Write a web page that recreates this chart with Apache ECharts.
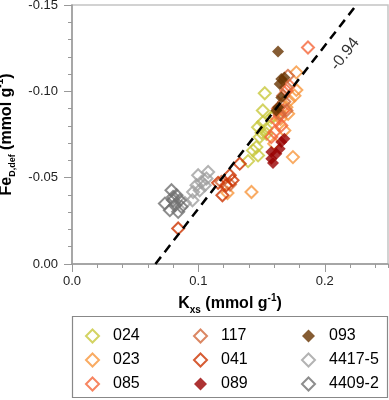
<!DOCTYPE html>
<html><head><meta charset="utf-8">
<script src="https://cdn.jsdelivr.net/npm/echarts@6/dist/echarts.min.js"></script>
<style>html,body{margin:0;padding:0;background:#fff}#c{width:389px;height:400px}</style>
</head><body><div id="c"></div>
<script>
const names = ['024','023','085','117','041','089','093','4417-5','4409-2'];
const colors = ['#c8c83c','#f7963c','#f5663a','#d2693c','#cc3300','#990000','#663300','#a0a0a0','#707070'];
const filled = [false,false,false,false,false,true,true,false,false];

const s024 = [[0.1525,-0.0989],[0.151,-0.0889],[0.151,-0.0821],[0.1472,-0.0792],[0.1538,-0.0783],[0.1485,-0.0735],[0.1538,-0.0754],[0.1459,-0.0677],[0.1432,-0.0658],[0.1472,-0.0629],[0.1393,-0.0596],[0.1577,-0.085],[0.160,-0.086],[0.1500,-0.0760]];
const s023 = [[0.123,-0.0411],[0.142,-0.0417],[0.1748,-0.0619],[0.1775,-0.111],[0.1775,-0.1008],[0.176,-0.0975],[0.168,-0.0773],[0.160,-0.0696],[0.1696,-0.0908],[0.172,-0.0946],[0.1710,-0.0870],[0.1650,-0.0840]];
const s085 = [[0.1867,-0.1254],[0.1643,-0.086],[0.167,-0.0889],[0.1617,-0.0831],[0.1656,-0.0802],[0.1696,-0.1004],[0.172,-0.1033],[0.160,-0.0763],[0.1577,-0.0735],[0.1630,-0.0900]];
const s117 = [[0.1708,-0.109],[0.1696,-0.1023],[0.167,-0.0975],[0.1696,-0.0889],[0.1643,-0.087],[0.1182,-0.0475],[0.1250,-0.0460],[0.1680,-0.0940]];
const s041 = [[0.084,-0.0206],[0.1156,-0.047],[0.119,-0.0398],[0.1248,-0.0514],[0.1327,-0.0581],[0.127,-0.0485],[0.122,-0.0456]];
const s089 = [[0.159,-0.0585],[0.1577,-0.061],[0.1577,-0.0648],[0.1643,-0.0667],[0.168,-0.0725],[0.1617,-0.0639],[0.1656,-0.0706]];
const s093 = [[0.163,-0.1231],[0.1656,-0.1071],[0.168,-0.108],[0.1643,-0.1042],[0.163,-0.0908],[0.1656,-0.0965],[0.1617,-0.0889]];
const s4417 = [[0.1077,-0.0533],[0.0998,-0.0514],[0.1024,-0.0475],[0.0985,-0.0456],[0.105,-0.0456],[0.0958,-0.0417],[0.101,-0.0427],[0.0953,-0.0369],[0.0893,-0.0354],[0.1064,-0.0495]];
const s4409 = [[0.0787,-0.0427],[0.0827,-0.0398],[0.080,-0.0369],[0.0735,-0.035],[0.0853,-0.0369],[0.0814,-0.034],[0.084,-0.0302],[0.0774,-0.0312],[0.0866,-0.0331],[0.080,-0.0388]];
const seriesData = [s024,s023,s085,s117,s041,s089,s093,s4417,s4409];

const fitX = [0.066, 0.225];
const fitY = [0.0, -0.15];
const fitLabel = '-0.94';
const fitLabelPos = [0.2160, -0.1215];

const xTicks = ['0.0','0.1','0.2'];

const chart = echarts.init(document.getElementById('c'));
const series = names.map((n,i)=>({
  name: n, type: 'scatter', symbol: 'diamond', symbolSize: 12,
  data: seriesData[i],
  itemStyle: filled[i] ? {color: colors[i]} : {color: 'rgba(255,255,255,0)', borderColor: colors[i], borderWidth: 2},
  z: 3
}));
series.push({
  type: 'line', data: fitX.map((x,i)=>[x,fitY[i]]), symbol: 'none', silent: true,
  lineStyle: {color: '#000', width: 2.5, type: [9,6]}, z: 5
});
series.push({
  type: 'scatter', data: [fitLabelPos], symbolSize: 0, silent: true,
  label: {show: true, position: 'inside', formatter: fitLabel, rotate: 52, fontSize: 16, color: '#000', fontFamily: 'Liberation Sans'}
});

const legendBase = {orient: 'vertical', top: 323, itemWidth: 13, itemHeight: 13, itemGap: 8,
  textStyle: {fontSize: 16, color: '#000', fontFamily: 'Liberation Sans', padding:[0,0,0,9]}, icon: 'diamond', selectedMode: false,
  itemStyle: {borderWidth: 2}};

const mkRich = (sub) => ({
  b: {fontSize: 16, fontWeight: 'bold', color: '#000', fontFamily: 'Liberation Sans', lineHeight: 19, verticalAlign: 'bottom'},
  sub: {fontSize: sub, fontWeight: 'bold', color: '#000', fontFamily: 'Liberation Sans', lineHeight: 19, verticalAlign: 'bottom', padding: [0,0,-3,0]},
  sup: {fontSize: 10, fontWeight: 'bold', color: '#000', fontFamily: 'Liberation Sans', lineHeight: 19, verticalAlign: 'top'}
});

chart.setOption({
  animation: false,
  grid: {left: 72, right: 1, top: 5, height: 259, show: true, borderColor: '#c4c4c4', borderWidth: 1.5, containLabel: false, outerBoundsMode: 'none'},
  xAxis: [{
    type: 'value', min: 0, max: 0.25, interval: 0.1,
    axisLine: {lineStyle: {color: '#999', width: 1.5}},
    axisTick: {length: 8, lineStyle: {color: '#999'}},
    axisLabel: {fontSize: 13, color: '#222', margin: 11, fontFamily: 'Liberation Sans', showMaxLabel: false,
      formatter: v => { const i = Math.round(v/0.1); return (Math.abs(v - i*0.1) < 1e-9 && xTicks[i]) ? xTicks[i] : ''; }},
    splitLine: {show: false},
    name: '{b|K}{sub|xs}{b| (mmol g}{sup|-1}{b|)}', nameLocation: 'middle', nameGap: 21,
    nameTextStyle: {rich: mkRich(10)}
  },{
    type: 'value', min: 0, max: 0.25, interval: 0.02, position: 'bottom',
    axisLine: {show: false}, axisLabel: {show: false}, splitLine: {show: false},
    axisTick: {length: 4, lineStyle: {color: '#999'}}
  }],
  yAxis: {
    type: 'value', min: -0.15, max: 0, interval: 0.05, inverse: true,
    axisLine: {show: true, lineStyle: {color: '#999', width: 1.5}},
    axisTick: {show: true, length: 8, lineStyle: {color: '#999'}},
    minorTick: {show: true, splitNumber: 5, length: 4, lineStyle: {color: '#999'}},
    axisLabel: {fontSize: 13, color: '#222', margin: 14, fontFamily: 'Liberation Sans', formatter: v => v.toFixed(2)},
    splitLine: {show: false},
    name: '{b|Fe}{sub|D,def}{b| (mmol g}{sup|-1}{b|)}', nameLocation: 'middle', nameGap: 50,
    nameTextStyle: {rich: mkRich(9)}
  },
  legend: [
    Object.assign({}, legendBase, {left: 80, data: names.slice(0,3)}),
    Object.assign({}, legendBase, {left: 188, data: names.slice(3,6)}),
    Object.assign({}, legendBase, {left: 296, data: names.slice(6,9)})
  ],
  graphic: [{type: 'rect', shape: {x: 72.5, y: 316.5, width: 315, height: 81}, style: {fill: 'none', stroke: '#888', lineWidth: 1.2}, silent: true}],
  series: series
});
</script></body></html>
